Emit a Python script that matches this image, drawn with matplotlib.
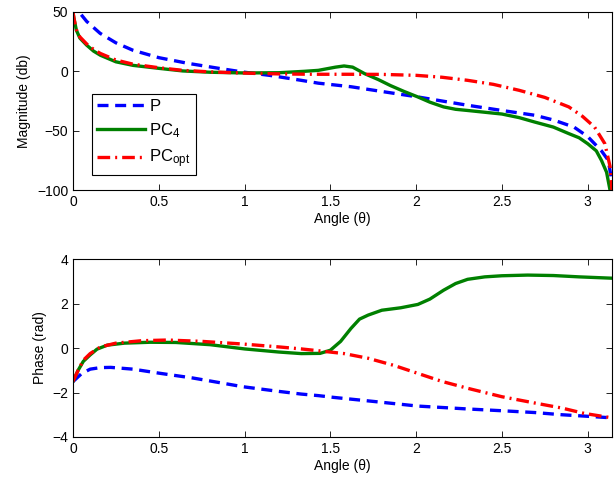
import numpy as np
import matplotlib.pyplot as plt

plt.rcParams['font.family'] = ['Liberation Sans', 'DejaVu Sans']
plt.rcParams['font.size'] = 10
plt.rcParams['mathtext.fontset'] = 'custom'
plt.rcParams['mathtext.rm'] = 'Liberation Sans'
plt.rcParams['mathtext.it'] = 'Liberation Sans'

# ---- magnitude (top) ----
mag_p_x = [0.0, 0.01, 0.035, 0.08, 0.158, 0.25, 0.35, 0.5, 0.67, 0.85, 0.99, 1.15, 1.33,
           1.43, 1.62, 1.8, 2.01, 2.15, 2.30, 2.5, 2.69, 2.8, 2.92, 3.0, 3.04, 3.08, 3.12,
           3.135, np.pi]
mag_p_y = [62, 58, 50, 42, 32, 24, 17.7, 11.5, 6.7, 2.5, -0.6, -3.5, -7.6,
           -10, -13, -17, -21.6, -25, -28.6, -33, -37, -41, -47, -55, -61, -67, -75,
           -88, -100]

mag_pc4_x = [0.0, 0.005, 0.012, 0.02, 0.04, 0.08, 0.12, 0.16, 0.25, 0.35, 0.5, 0.64, 0.8,
             1.0, 1.2, 1.35, 1.43, 1.53, 1.58, 1.63, 1.70, 1.78, 1.85, 1.93, 2.01, 2.08,
             2.16, 2.23, 2.30, 2.40, 2.50, 2.6, 2.69, 2.8, 2.89, 2.95, 3.0, 3.05, 3.08,
             3.11, 3.13]
mag_pc4_y = [50, 45, 40, 34.5, 28, 22, 17, 13.5, 8, 5, 2.5, 0.3, -0.8,
             -1.4, -1.2, 0, 0.8, 3.5, 4.5, 3.5, -2, -7, -12, -17, -21.6, -26,
             -30, -32, -33, -34.5, -36, -39, -42.7, -47, -52.5, -56, -61, -67, -75,
             -85, -100]

mag_opt_x = [0.0, 0.005, 0.012, 0.02, 0.04, 0.08, 0.12, 0.16, 0.25, 0.35, 0.5, 0.64, 0.8,
             1.0, 1.2, 1.4, 1.6, 1.8, 2.0, 2.15, 2.3, 2.45, 2.6, 2.75, 2.89, 2.97, 3.04,
             3.10, 3.13, np.pi]
mag_opt_y = [50, 45, 40, 35, 29, 23, 18.5, 15, 9.5, 6, 3, 0.8, -0.5,
             -1.5, -2.2, -2.5, -2.5, -2.6, -3.4, -5, -7.6, -11, -16, -22, -30, -38, -47,
             -61, -80, -100]

# ---- phase (bottom) ----
ph_p_x = [0.0, 0.05, 0.1, 0.16, 0.22, 0.35, 0.51, 0.7, 0.85, 0.99, 1.2, 1.33, 1.43, 1.52,
          1.75, 2.01, 2.3, 2.5, 2.69, 2.85, 2.98, np.pi]
ph_p_y = [-1.51, -1.15, -0.95, -0.88, -0.87, -0.95, -1.14, -1.35, -1.55, -1.74, -1.95,
          -2.07, -2.14, -2.22, -2.4, -2.61, -2.74, -2.82, -2.9, -3.0, -3.06, -3.14]

ph_pc4_x = [0.0, 0.03, 0.06, 0.1, 0.14, 0.2, 0.3, 0.45, 0.6, 0.8, 1.0, 1.2, 1.33, 1.44,
            1.5, 1.56, 1.62, 1.67, 1.72, 1.8, 1.91, 2.01, 2.08, 2.16, 2.23, 2.30, 2.4,
            2.5, 2.65, 2.8, 2.95, np.pi]
ph_pc4_y = [-1.5, -1.0, -0.6, -0.31, -0.05, 0.13, 0.22, 0.26, 0.25, 0.15, -0.04, -0.18,
            -0.25, -0.24, -0.1, 0.3, 0.88, 1.3, 1.48, 1.7, 1.81, 1.96, 2.2, 2.6, 2.9, 3.09,
            3.2, 3.25, 3.28, 3.26, 3.2, 3.14]

ph_opt_x = [0.0, 0.03, 0.06, 0.1, 0.16, 0.25, 0.4, 0.55, 0.75, 0.99, 1.2, 1.33, 1.44,
            1.58, 1.72, 1.87, 2.01, 2.15, 2.3, 2.5, 2.69, 2.85, 2.98, np.pi]
ph_opt_y = [-1.5, -1.0, -0.55, -0.25, 0.05, 0.22, 0.33, 0.36, 0.3, 0.18, 0.05, -0.04,
            -0.13, -0.25, -0.46, -0.78, -1.14, -1.5, -1.81, -2.19, -2.47, -2.7, -2.94, -3.14]

BLUE = '#0000ff'
GREEN = '#008000'
RED = '#ff0000'
LW = 2.4
DASH = (0, (3.3, 2.0))
DASHDOT = (0, (3.8, 1.5, 0.6, 1.5))

fig = plt.figure(figsize=(6.16, 4.78), dpi=100)
ax1 = fig.add_axes([0.1185, 0.6025, 0.875, 0.3725])
ax2 = fig.add_axes([0.1185, 0.0858, 0.875, 0.3722])

ax1.plot(mag_p_x, mag_p_y, color=BLUE, lw=LW, ls=DASH, label='P')
ax1.plot(mag_pc4_x, mag_pc4_y, color=GREEN, lw=LW, label=r'PC$_{\mathrm{4}}$')
ax1.plot(mag_opt_x, mag_opt_y, color=RED, lw=LW, ls=DASHDOT, label=r'PC$_{\mathrm{opt}}$')

ax2.plot(ph_p_x, ph_p_y, color=BLUE, lw=LW, ls=DASH)
ax2.plot(ph_pc4_x, ph_pc4_y, color=GREEN, lw=LW)
ax2.plot(ph_opt_x, ph_opt_y, color=RED, lw=LW, ls=DASHDOT)

ax1.set_ylim(-100, 50)
ax1.set_yticks([-100, -50, 0, 50])
ax1.set_ylabel('Magnitude (db)')
ax2.set_ylim(-4, 4)
ax2.set_yticks([-4, -2, 0, 2, 4])
ax2.set_ylabel('Phase (rad)')

for ax in (ax1, ax2):
    ax.set_xlim(0, np.pi)
    ax.set_xticks([0, 0.5, 1, 1.5, 2, 2.5, 3])
    ax.set_xticklabels(['0', '0.5', '1', '1.5', '2', '2.5', '3'])
    ax.set_xlabel('Angle (θ)', labelpad=2)
    ax.tick_params(direction='in', top=True, right=True, length=4, width=0.6, labelsize=10)
    for s in ax.spines.values():
        s.set_linewidth(0.8)

leg = ax1.legend(loc='lower left', bbox_to_anchor=(0.035, 0.084), fancybox=False,
                 edgecolor='black', framealpha=1, fontsize=12, handlelength=2.9,
                 borderpad=0.3, labelspacing=0.45, handletextpad=0.25, borderaxespad=0)
leg.get_frame().set_linewidth(0.8)

fig.savefig('out.png', dpi=100)
